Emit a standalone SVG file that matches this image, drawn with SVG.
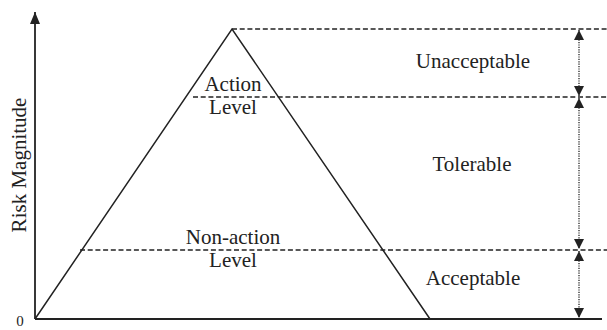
<svg xmlns="http://www.w3.org/2000/svg" width="607" height="330" viewBox="0 0 607 330">
  <style>
    text { font-family: "Liberation Serif", "Times New Roman", serif; font-size: 21px; fill: #222; }
    .mid { text-anchor: middle; }
    .origin { font-size: 15px; }
    .axis { stroke: #222; stroke-width: 1.8; fill: none; }
    .edge { stroke: #222; stroke-width: 1.5; fill: none; }
    .dash { stroke: #222; stroke-width: 1.3; stroke-dasharray: 5 2.7; fill: none; }
    .dot { stroke: #222; stroke-width: 1.3; stroke-dasharray: 1.2 1.2; fill: none; }
  </style>
  <defs>
    <!-- zone arrowhead, 10 long x 10 wide -->
    <marker id="tip" viewBox="0 0 10 10" refX="10" refY="5" markerWidth="10" markerHeight="10" orient="auto-start-reverse" markerUnits="userSpaceOnUse">
      <path d="M0,0 L10,5 L0,10 Z" fill="#222"/>
    </marker>
    <!-- axis arrowhead, 12 long x 10 wide -->
    <marker id="axisTip" viewBox="0 0 12 10" refX="12" refY="5" markerWidth="12" markerHeight="10" orient="auto" markerUnits="userSpaceOnUse">
      <path d="M0,0 L12,5 L0,10 Z" fill="#222"/>
    </marker>
  </defs>

  <!-- axes -->
  <g id="axes">
    <line class="axis" x1="35" y1="319" x2="35" y2="12" marker-end="url(#axisTip)"/>
    <line class="axis" x1="35" y1="319" x2="602" y2="319"/>
    <text x="20" y="326" class="mid origin">0</text>
    <text class="mid" transform="translate(26,165) rotate(-90)">Risk Magnitude</text>
  </g>

  <!-- risk triangle -->
  <g id="triangle">
    <polyline class="edge" points="35,319 232,29 430,319"/>
  </g>

  <!-- level lines and zone arrows -->
  <g id="connectors">
    <line class="dash" x1="232" y1="29" x2="607" y2="29"/>
    <line class="dash" x1="193" y1="97" x2="607" y2="97"/>
    <line class="dash" x1="80" y1="250" x2="607" y2="250"/>
    <line class="dot" x1="579" y1="30" x2="579" y2="96" marker-start="url(#tip)" marker-end="url(#tip)"/>
    <line class="dot" x1="579" y1="98" x2="579" y2="249" marker-start="url(#tip)" marker-end="url(#tip)"/>
    <line class="dot" x1="579" y1="251" x2="579" y2="318" marker-start="url(#tip)" marker-end="url(#tip)"/>
  </g>

  <g id="action-level">
    <text x="233" y="91" class="mid">Action</text>
    <text x="233" y="114" class="mid">Level</text>
  </g>
  <g id="non-action-level">
    <text x="233" y="244" class="mid">Non-action</text>
    <text x="233" y="267" class="mid">Level</text>
  </g>
  <g id="unacceptable">
    <text x="473" y="68" class="mid">Unacceptable</text>
  </g>
  <g id="tolerable">
    <text x="472" y="171" class="mid">Tolerable</text>
  </g>
  <g id="acceptable">
    <text x="473" y="285" class="mid">Acceptable</text>
  </g>
</svg>
